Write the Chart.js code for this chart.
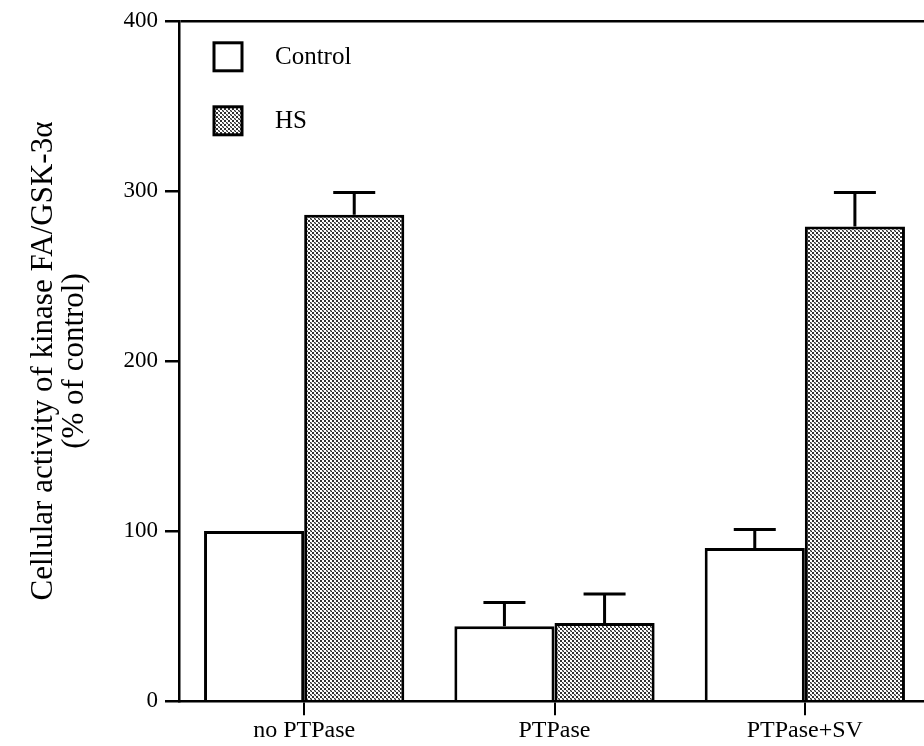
<!DOCTYPE html>
<html>
<head>
<meta charset="utf-8">
<script src="https://cdn.jsdelivr.net/npm/chart.js@4/dist/chart.umd.min.js"></script>
<style>
  html, body { margin: 0; padding: 0; background: #fff; overflow: hidden; }
  #chart { display: block; }
</style>
</head>
<body>
<canvas id="chart" width="932" height="746"></canvas>
<script>
// ---- data ----
const categories = ['no PTPase', 'PTPase', 'PTPase+SV'];
const controlValues = [100, 44, 90];
const controlErrors = [0, 14, 11];
const hsValues = [286, 46, 279];
const hsErrors = [13, 17, 20];
const yTicks = [0, 100, 200, 300, 400];

const SERIF = "'Liberation Serif', 'Times New Roman', serif";

// halftone fill for the HS bars
function makeDots() {
  const c = document.createElement('canvas');
  c.width = 4; c.height = 4;
  const g = c.getContext('2d');
  g.fillStyle = '#ffffff';
  g.fillRect(0, 0, 4, 4);
  g.fillStyle = '#303030';
  g.fillRect(0, 0, 2, 2);
  g.fillRect(2, 2, 1, 1);
  g.fillRect(3, 3, 1, 1);
  g.fillStyle = '#9a9a9a';
  g.fillRect(2, 3, 1, 1);
  g.fillRect(3, 2, 1, 1);
  return g.createPattern(c, 'repeat');
}
const dots = makeDots();

// error bars (upper side only)
const errorBars = {
  id: 'errorBars',
  afterDatasetsDraw(chart) {
    const ctx = chart.ctx;
    const y = chart.scales.y;
    ctx.save();
    ctx.strokeStyle = '#000';
    ctx.lineWidth = 3;
    chart.data.datasets.forEach((ds, i) => {
      const meta = chart.getDatasetMeta(i);
      meta.data.forEach((bar, j) => {
        const err = ds.errors[j];
        if (!err) return;
        const top = y.getPixelForValue(ds.data[j] + err);
        ctx.beginPath();
        ctx.moveTo(bar.x, bar.y);
        ctx.lineTo(bar.x, top);
        ctx.moveTo(bar.x - 21, top);
        ctx.lineTo(bar.x + 21, top);
        ctx.stroke();
      });
    });
    ctx.restore();
  }
};

// legend inside the plot, top left
const boxLegend = {
  id: 'boxLegend',
  afterDraw(chart) {
    const ctx = chart.ctx;
    const area = chart.chartArea;
    ctx.save();
    chart.data.datasets.forEach((ds, i) => {
      const bx = area.left + 35;
      const by = area.top + 22 + i * 64;
      ctx.fillStyle = ds.backgroundColor;
      ctx.fillRect(bx, by, 28, 28);
      ctx.strokeStyle = '#000';
      ctx.lineWidth = 3;
      ctx.strokeRect(bx, by, 28, 28);
      ctx.fillStyle = '#000';
      ctx.font = '25px ' + SERIF;
      ctx.textBaseline = 'middle';
      ctx.fillText(ds.label, bx + 61, by + 15);
    });
    ctx.restore();
  }
};

new Chart(document.getElementById('chart'), {
  type: 'bar',
  data: {
    labels: categories,
    datasets: [
      {
        label: 'Control',
        data: controlValues,
        errors: controlErrors,
        backgroundColor: '#ffffff',
        borderColor: '#000',
        borderWidth: 3,
        barPercentage: 1.0,
        categoryPercentage: 0.8
      },
      {
        label: 'HS',
        data: hsValues,
        errors: hsErrors,
        backgroundColor: dots,
        borderColor: '#000',
        borderWidth: 3,
        barPercentage: 1.0,
        categoryPercentage: 0.8
      }
    ]
  },
  options: {
    responsive: false,
    animation: false,
    layout: { padding: { top: 12, right: 2, left: 0, bottom: 0 } },
    plugins: {
      legend: { display: false },
      tooltip: { enabled: false }
    },
    scales: {
      x: {
        border: { color: '#000', width: 2.5 },
        grid: { offset: false, drawOnChartArea: false, tickLength: 14, tickColor: '#000', lineWidth: 2 },
        ticks: { color: '#000', font: { family: SERIF, size: 24 }, padding: 1 }
      },
      y: {
        min: 0,
        max: 400,
        afterBuildTicks: (scale) => { scale.ticks = yTicks.map(v => ({ value: v })); },
        afterFit: (scale) => { scale.width = 179; },
        border: { color: '#000', width: 2.5 },
        grid: {
          drawOnChartArea: true,
          color: (c) => (c.tick && c.tick.value === 400 ? '#000' : 'rgba(0,0,0,0)'),
          tickColor: '#000',
          tickLength: 14,
          lineWidth: 2.5
        },
        ticks: { color: '#000', font: { family: SERIF, size: 23 }, padding: 7 },
        title: {
          display: true,
          text: ['Cellular activity of kinase FA/GSK-3α', '(% of control)'],
          color: '#000',
          font: { family: SERIF, size: 31, lineHeight: 1.0 },
          padding: { top: 28, bottom: 0 }
        }
      }
    }
  },
  plugins: [errorBars, boxLegend]
});
</script>
</body>
</html>
